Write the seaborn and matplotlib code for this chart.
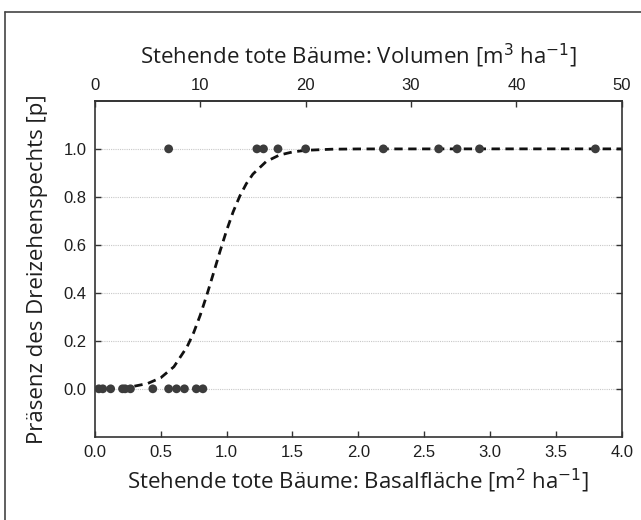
import numpy as np
import pandas as pd
import matplotlib
matplotlib.use("Agg")
import matplotlib.pyplot as plt
import matplotlib.lines as mlines
import seaborn as sns

# observed sites: basal area of standing dead trees [m2/ha] and presence (0/1)
absent_x = [0.03, 0.06, 0.12, 0.21, 0.23, 0.27, 0.44, 0.56, 0.62, 0.68, 0.77, 0.82]
present_x = [0.56, 1.23, 1.28, 1.39, 1.60, 2.19, 2.61, 2.75, 2.92, 3.80]

# fitted logistic curve
curve_x = [0.30, 0.40, 0.50, 0.60, 0.70, 0.75, 0.80, 0.85, 0.90, 0.95, 1.00,
           1.05, 1.10, 1.15, 1.20, 1.30, 1.40, 1.50, 1.60, 1.80, 2.00, 3.00, 4.00]
curve_p = [0.011, 0.022, 0.046, 0.092, 0.175, 0.234, 0.307, 0.391, 0.481, 0.573, 0.660,
           0.738, 0.803, 0.855, 0.895, 0.947, 0.974, 0.987, 0.994, 0.9986, 0.9997, 1.0, 1.0]

y_ticks = [0.0, 0.2, 0.4, 0.6, 0.8, 1.0]
x_ticks = [0.0, 0.5, 1.0, 1.5, 2.0, 2.5, 3.0, 3.5, 4.0]
vol_ticks = [0, 10, 20, 30, 40, 50]
vol_per_basal = 12.5  # 50 m3/ha on top axis <-> 4.0 m2/ha on bottom axis

pts = pd.DataFrame({
    "x": absent_x + present_x,
    "p": [0] * len(absent_x) + [1] * len(present_x),
})
curve = pd.DataFrame({"x": curve_x, "p": curve_p})

sns.set_style("ticks")
plt.rcParams["font.family"] = ["Liberation Sans", "DejaVu Sans"]

fig = plt.figure(figsize=(6.41, 5.2), dpi=100)
ax = fig.add_axes([0.148, 0.160, 0.822, 0.646])

edge = "#333333"
txt = "#1e1e1e"

# grid lines
for yv in y_ticks:
    ax.axhline(yv, color="#c8c8c8", lw=0.8, ls=(0, (1, 1)), zorder=0)

sns.lineplot(data=curve, x="x", y="p", ax=ax, color="#111111", lw=2.0,
             linestyle=(0, (3, 2)), zorder=2)
sns.scatterplot(data=pts, x="x", y="p", ax=ax, color="#3c3c3c", s=40,
                edgecolor="none", zorder=3)

ax.set_xlim(0, 4.0)
ax.set_ylim(-0.2, 1.2)
ax.set_xticks(x_ticks)
ax.set_xticklabels([f"{v:.1f}" for v in x_ticks])
ax.set_yticks(y_ticks)
ax.set_yticklabels([f"{v:.1f}" for v in y_ticks])
ax.tick_params(direction="in", length=4, width=1, color=edge, labelsize=12,
               labelcolor=txt, right=True, pad=6)

for s in ax.spines.values():
    s.set_color(edge)
    s.set_linewidth(1.2)

label_font = ["Open Sans", "DejaVu Sans"]
ax.set_xlabel("Stehende tote Bäume: Basalfläche [m$^2$ ha$^{-1}$]", fontsize=16,
              family=label_font, color=txt, labelpad=5)
ax.set_ylabel("Präsenz des Dreizehenspechts [p]", fontsize=16,
              family=label_font, color=txt, labelpad=11)

top = ax.secondary_xaxis("top", functions=(lambda v: v * vol_per_basal,
                                           lambda v: v / vol_per_basal))
top.set_xticks(vol_ticks)
top.tick_params(direction="in", length=4, width=1, color=edge, labelsize=12,
                labelcolor=txt, pad=6)
top.spines["top"].set_color(edge)
top.spines["top"].set_linewidth(1.2)
top.set_xlabel("Stehende tote Bäume: Volumen [m$^3$ ha$^{-1}$]", fontsize=16,
               family=label_font, color=txt, labelpad=10)

# outer frame of the figure box
fig.add_artist(mlines.Line2D([5 / 641, 5 / 641], [0, 1 - 12 / 520],
                             transform=fig.transFigure, color="#444444", lw=1.2))
fig.add_artist(mlines.Line2D([5 / 641, 1], [1 - 12 / 520, 1 - 12 / 520],
                             transform=fig.transFigure, color="#444444", lw=1.2))

fig.savefig("out.png", dpi=100)
